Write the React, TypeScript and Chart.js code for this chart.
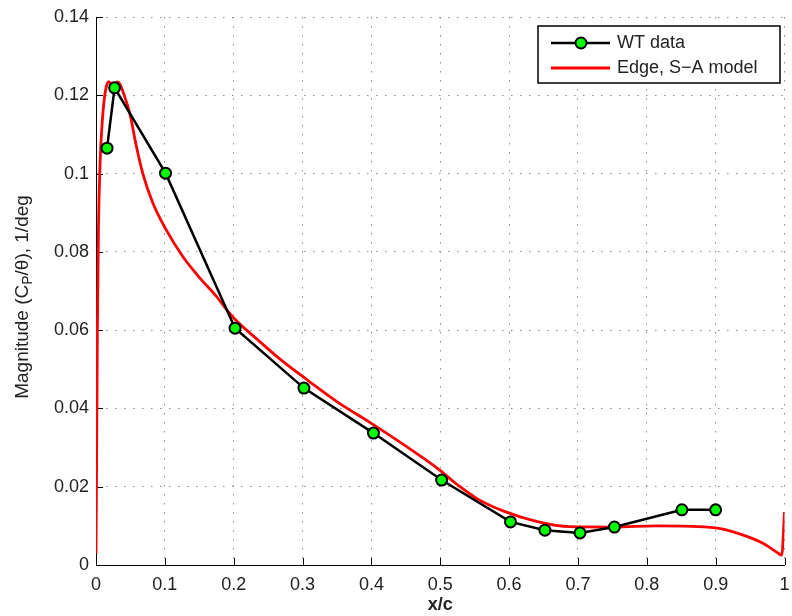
import React, { useEffect, useRef } from "react";
import { Chart, registerables } from "chart.js";

Chart.register(...registerables);

// WT data (wind tunnel)
const wtX = [0.016, 0.027, 0.101, 0.202, 0.302, 0.403, 0.502, 0.602, 0.652, 0.703, 0.753, 0.851, 0.9];
const wtY = [0.1065, 0.1219, 0.1001, 0.0605, 0.0452, 0.0337, 0.0217, 0.011, 0.0089, 0.0082, 0.0097, 0.0141, 0.0141];

// Edge, S-A model (CFD)
const cfdX = [0, 0.001, 0.002, 0.0035, 0.006, 0.009, 0.012, 0.015, 0.018, 0.021, 0.025, 0.028, 0.031, 0.035, 0.04, 0.049, 0.0587, 0.068, 0.0827, 0.102, 0.126, 0.15, 0.174, 0.198, 0.237, 0.27, 0.309, 0.352, 0.4, 0.449, 0.496, 0.525, 0.554, 0.593, 0.641, 0.688, 0.752, 0.814, 0.9, 0.939, 0.968, 0.991, 0.996, 1.0];
const cfdY = [0.003, 0.03, 0.06, 0.085, 0.103, 0.113, 0.119, 0.1222, 0.1234, 0.1232, 0.1224, 0.1226, 0.1234, 0.1228, 0.1205, 0.1154, 0.1069, 0.1, 0.0924, 0.0856, 0.0788, 0.0735, 0.0688, 0.0635, 0.0572, 0.0522, 0.047, 0.0415, 0.0362, 0.0305, 0.0247, 0.0205, 0.0169, 0.0137, 0.0111, 0.0098, 0.0097, 0.01, 0.0095, 0.0077, 0.0056, 0.003, 0.0025, 0.0135];

const xTicks = [0, 0.1, 0.2, 0.3, 0.4, 0.5, 0.6, 0.7, 0.8, 0.9, 1];
const yTicks = [0, 0.02, 0.04, 0.06, 0.08, 0.1, 0.12, 0.14];

const seriesNames = ["WT data", "Edge, S\u2212A model"];
const xTitle = "x/c";

const FONT = "'Liberation Sans', Arial, Helvetica, sans-serif";
const TEXT = "#222";

const fmt = (v: number) => String(Number(v.toFixed(4)));

const matlabPlugin = {
  id: "matlabDecor",
  beforeDatasetsDraw(chart: any) {
    const { ctx, chartArea: a, scales } = chart;
    ctx.save();
    ctx.strokeStyle = "#000";
    ctx.lineWidth = 1;
    ctx.beginPath();
    for (const v of xTicks) {
      const px = Math.round(scales.x.getPixelForValue(v)) + 0.5;
      ctx.moveTo(px, a.bottom);
      ctx.lineTo(px, a.bottom - 7);
    }
    for (const v of yTicks) {
      const py = Math.round(scales.y.getPixelForValue(v)) + 0.5;
      ctx.moveTo(a.left, py);
      ctx.lineTo(a.left + 7, py);
    }
    ctx.stroke();
    ctx.restore();
  },
  afterDraw(chart: any) {
    const { ctx, chartArea: a } = chart;
    ctx.save();
    // x title
    ctx.fillStyle = TEXT;
    ctx.font = `bold 18px ${FONT}`;
    ctx.textAlign = "center";
    ctx.textBaseline = "middle";
    ctx.fillText(xTitle, (a.left + a.right) / 2, 605);

    // y title with subscript
    ctx.translate(22, 297);
    ctx.rotate(-Math.PI / 2);
    const parts: [string, boolean][] = [
      ["Magnitude (C", false],
      ["P", true],
      ["/\u03B8), 1/deg", false],
    ];
    const big = `19px ${FONT}`;
    const small = `14px ${FONT}`;
    let total = 0;
    for (const [t, sub] of parts) {
      ctx.font = sub ? small : big;
      total += ctx.measureText(t).width;
    }
    let x = -total / 2;
    ctx.textAlign = "left";
    ctx.textBaseline = "alphabetic";
    for (const [t, sub] of parts) {
      ctx.font = sub ? small : big;
      ctx.fillText(t, x, sub ? 10 : 6);
      x += ctx.measureText(t).width;
    }
    ctx.restore();

    // legend
    ctx.save();
    const bx = 538, by = 26, bw = 242, bh = 57;
    ctx.fillStyle = "#fff";
    ctx.fillRect(bx, by, bw, bh);
    ctx.strokeStyle = "#000";
    ctx.lineWidth = 1.5;
    ctx.strokeRect(bx, by, bw, bh);
    const rows = [43, 68];
    ctx.strokeStyle = "#000";
    ctx.lineWidth = 2.5;
    ctx.beginPath();
    ctx.moveTo(551, rows[0]);
    ctx.lineTo(610, rows[0]);
    ctx.stroke();
    ctx.beginPath();
    ctx.arc(581, rows[0], 5.5, 0, Math.PI * 2);
    ctx.fillStyle = "#00ff00";
    ctx.fill();
    ctx.lineWidth = 2;
    ctx.stroke();
    ctx.strokeStyle = "#ff0000";
    ctx.lineWidth = 2.8;
    ctx.beginPath();
    ctx.moveTo(551, rows[1]);
    ctx.lineTo(610, rows[1]);
    ctx.stroke();
    ctx.fillStyle = TEXT;
    ctx.font = `18px ${FONT}`;
    ctx.textAlign = "left";
    ctx.textBaseline = "middle";
    ctx.fillText(seriesNames[0], 617, rows[0]);
    ctx.fillText(seriesNames[1], 617, rows[1]);
    ctx.restore();
  },
};

export default function App() {
  const ref = useRef<HTMLCanvasElement | null>(null);
  useEffect(() => {
    if (!ref.current) return;
    const chart = new Chart(ref.current, {
      type: "line",
      data: {
        datasets: [
          {
            label: seriesNames[0],
            data: wtX.map((x, i) => ({ x, y: wtY[i] })),
            borderColor: "#000",
            borderWidth: 2.5,
            pointBackgroundColor: "#00ff00",
            pointBorderColor: "#000",
            pointBorderWidth: 2,
            pointRadius: 5.5,
            tension: 0,
          },
          {
            label: seriesNames[1],
            data: cfdX.map((x, i) => ({ x, y: cfdY[i] })),
            borderColor: "#ff0000",
            borderWidth: 2.8,
            pointRadius: 0,
            cubicInterpolationMode: "monotone",
          },
        ],
      },
      options: {
        animation: false,
        responsive: false,
        devicePixelRatio: 1,
        layout: { padding: { left: 0, top: 17, right: 3, bottom: 0 } },
        plugins: { legend: { display: false }, tooltip: { enabled: false } },
        scales: {
          x: {
            type: "linear",
            min: 0,
            max: 1,
            afterBuildTicks: (s: any) => {
              s.ticks = xTicks.map((v) => ({ value: v }));
            },
            afterFit: (s: any) => {
              s.height = 51;
              s.paddingLeft = 0;
              s.paddingRight = 0;
            },
            ticks: {
              callback: (v: any) => fmt(Number(v)),
              font: { family: FONT, size: 18 },
              color: TEXT,
              padding: 9,
              maxRotation: 0,
              autoSkip: false,
            },
            grid: { color: "#8a8a8a", lineWidth: 1, drawTicks: false },
            border: { display: true, color: "#000", width: 1, dash: [1.5, 7.5] },
          },
          y: {
            type: "linear",
            min: 0,
            max: 0.14,
            afterBuildTicks: (s: any) => {
              s.ticks = yTicks.map((v) => ({ value: v }));
            },
            afterFit: (s: any) => {
              s.width = 96;
              s.paddingTop = 0;
              s.paddingBottom = 0;
            },
            ticks: {
              callback: (v: any) => fmt(Number(v)),
              font: { family: FONT, size: 18 },
              color: TEXT,
              padding: 7,
              autoSkip: false,
            },
            grid: { color: "#8a8a8a", lineWidth: 1, drawTicks: false },
            border: { display: true, color: "#000", width: 1, dash: [1.5, 7.5] },
          },
        },
      },
      plugins: [matlabPlugin],
    } as any);
    return () => chart.destroy();
  }, []);
  return (
    <div style={{ position: "absolute", left: 0, top: 0, width: 792, height: 616, background: "#fff" }}>
      <canvas ref={ref} width={792} height={616} />
    </div>
  );
}
